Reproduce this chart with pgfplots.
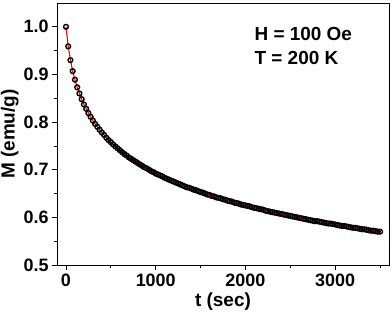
\documentclass[border=0pt]{standalone}
\usepackage{fontspec}
\setmainfont{Liberation Sans}
\usepackage{pgfplots}
\pgfplotsset{compat=1.18}
\usepackage{pgfplotstable}
\pgfplotstableread{
t M
0 1.000
25 0.959
50 0.930
75 0.907
100 0.889
125 0.873
150 0.860
175 0.848
200 0.837
225 0.828
250 0.819
275 0.811
300 0.803
325 0.796
350 0.790
375 0.784
400 0.778
425 0.773
450 0.767
475 0.762
500 0.758
525 0.753
550 0.749
575 0.745
600 0.741
625 0.737
650 0.733
675 0.730
700 0.726
725 0.723
750 0.720
775 0.717
800 0.714
825 0.711
850 0.708
875 0.705
900 0.703
925 0.700
950 0.697
975 0.695
1000 0.692
1025 0.690
1050 0.688
1075 0.686
1100 0.683
1125 0.681
1150 0.679
1175 0.677
1200 0.675
1225 0.673
1250 0.671
1275 0.669
1300 0.667
1325 0.665
1350 0.663
1375 0.662
1400 0.660
1425 0.658
1450 0.657
1475 0.655
1500 0.653
1525 0.652
1550 0.650
1575 0.648
1600 0.647
1625 0.645
1650 0.644
1675 0.642
1700 0.641
1725 0.640
1750 0.638
1775 0.637
1800 0.635
1825 0.634
1850 0.633
1875 0.631
1900 0.630
1925 0.629
1950 0.627
1975 0.626
2000 0.625
2025 0.624
2050 0.623
2075 0.621
2100 0.620
2125 0.619
2150 0.618
2175 0.617
2200 0.616
2225 0.614
2250 0.613
2275 0.612
2300 0.611
2325 0.610
2350 0.609
2375 0.608
2400 0.607
2425 0.606
2450 0.605
2475 0.604
2500 0.603
2525 0.602
2550 0.601
2575 0.600
2600 0.599
2625 0.598
2650 0.597
2675 0.596
2700 0.595
2725 0.594
2750 0.593
2775 0.592
2800 0.592
2825 0.591
2850 0.590
2875 0.589
2900 0.588
2925 0.587
2950 0.587
2975 0.586
3000 0.585
3025 0.584
3050 0.583
3075 0.582
3100 0.582
3125 0.581
3150 0.580
3175 0.579
3200 0.578
3225 0.578
3250 0.577
3275 0.576
3300 0.575
3325 0.575
3350 0.574
3375 0.573
3400 0.572
3425 0.572
3450 0.571
3475 0.570
3500 0.570
}\datatable
\begin{document}
\begin{tikzpicture}
\path[use as bounding box] (-57bp,-53bp) rectangle (335bp,265bp);
\begin{axis}[
  scale only axis,
  width=332bp, height=262bp,
  xmin=-100, xmax=3600,
  ymin=0.5, ymax=1.05,
  xtick={0,1000,2000,3000},
  minor xtick={500,1500,2500,3500},
  ytick={0.5,0.6,0.7,0.8,0.9,1.0},
  minor ytick={0.55,0.65,0.75,0.85,0.95},
  xtick pos=bottom, ytick pos=left,
  tick align=outside,
  major tick length=5bp, minor tick length=3bp,
  every tick/.style={black, line width=0.8pt},
  axis line style={line width=0.9pt},
  /pgf/number format/assume math mode=true,
  /pgf/number format/fixed,
  /pgf/number format/1000 sep={},
  yticklabel style={/pgf/number format/fixed zerofill, /pgf/number format/precision=1},
  ticklabel style={font=\fontsize{18}{20}\selectfont\bfseries},
  xlabel={t (sec)},
  ylabel={M (emu/g)},
  label style={font=\fontsize{19}{22}\selectfont\bfseries},
  ylabel style={yshift=-2bp},
  clip=false,
]
\addplot[only marks, mark=o, mark size=2.4bp, mark options={black, line width=1.4pt}] table[x=t,y=M] {\datatable};
\addplot[red, line width=1.1pt, no marks] table[x=t,y=M] {\datatable};
\node[anchor=north west, inner sep=0pt, align=left, font=\fontsize{19}{24}\selectfont\bfseries] at (axis cs:2100,1.0) {H = 100 Oe\\T = 200 K};
\end{axis}
\end{tikzpicture}
\end{document}
